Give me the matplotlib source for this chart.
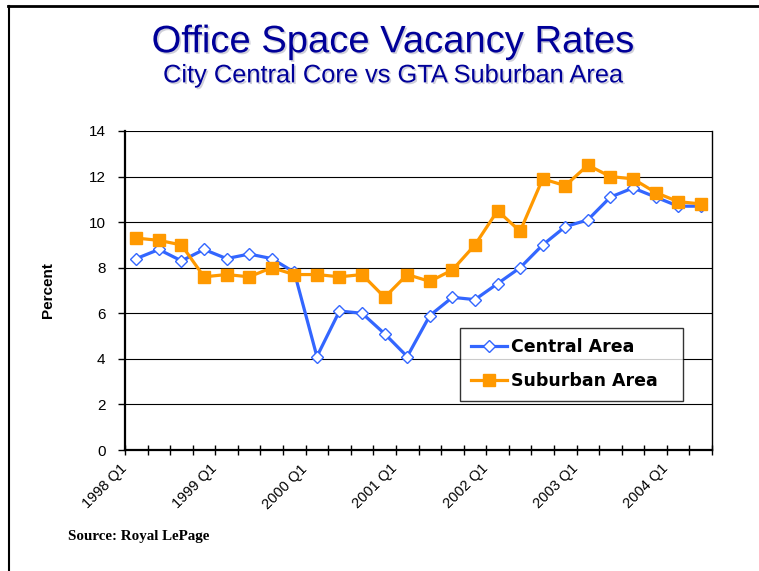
import matplotlib
matplotlib.use("Agg")
import matplotlib.pyplot as plt
import matplotlib.patheffects as pe
import matplotlib.transforms as mtrans
from matplotlib.lines import Line2D
import numpy as np

plt.rcParams["font.family"] = ["Liberation Sans", "DejaVu Sans"]

# %% Datos

trimestres = ["{} Q{}".format(a, q) for a in range(1998, 2005) for q in range(1, 5)][:26]
central = [8.4, 8.8, 8.3, 8.8, 8.4, 8.6, 8.4, 7.8, 4.1, 6.1, 6.0, 5.1, 4.1,
           5.9, 6.7, 6.6, 7.3, 8.0, 9.0, 9.8, 10.1, 11.1, 11.5, 11.1, 10.7, 10.7]
suburbano = [9.3, 9.2, 9.0, 7.6, 7.7, 7.6, 8.0, 7.7, 7.7, 7.6, 7.7, 6.7, 7.7,
             7.4, 7.9, 9.0, 10.5, 9.6, 11.9, 11.6, 12.5, 12.0, 11.9, 11.3, 10.9, 10.8]
y_ticks = [0, 2, 4, 6, 8, 10, 12, 14]

azul = "#3366FF"
naranja = "#FF9900"
titulo_color = "#000099"

# %% Grafico

fig = plt.figure(figsize=(7.59, 5.71), dpi=100)
ax = fig.add_axes([0.1647, 0.2119, 0.7734, 0.5587])

x = np.arange(len(trimestres))
ax.plot(x, central, "-D", color=azul, lw=2.3, ms=6, mfc="white", mec=azul, mew=1.0,
        label="Central Area", zorder=3)
ax.plot(x, suburbano, "-s", color=naranja, lw=2.3, ms=8, mfc=naranja, mec=naranja,
        label="Suburban Area", zorder=4)

ax.set_xlim(-0.5, len(trimestres) - 0.5)
ax.set_ylim(0, 14)
ax.set_yticks(y_ticks)
ax.yaxis.grid(True, color="black", lw=0.8)
ax.set_axisbelow(True)
ax.tick_params(axis="y", labelsize=11, length=5, width=1, pad=9)

# marcas en cada limite de categoria, etiquetas cada 4 trimestres
ax.set_xticks(np.arange(-0.5, len(trimestres), 1.0), minor=True)
ax.set_xticks(x[::4])
ax.set_xticklabels(trimestres[::4], rotation=45, ha="right", va="center",
                   rotation_mode="anchor", fontsize=10.5)
ax.tick_params(axis="x", which="major", length=0, pad=12)
ax.tick_params(axis="x", which="minor", direction="inout", length=7, width=1)
desplazo = mtrans.ScaledTranslation(-12 / 100, 0, fig.dpi_scale_trans)
for lbl in ax.get_xticklabels():
    lbl.set_transform(lbl.get_transform() + desplazo)

for s in ["left", "bottom"]:
    ax.spines[s].set_linewidth(1.6)
ax.spines["right"].set_linewidth(1.0)
ax.spines["top"].set_visible(False)

ax.set_ylabel("Percent", fontsize=11, fontweight="bold", labelpad=24)

leg = ax.legend(loc="lower left", bbox_to_anchor=(0.571, 0.154, 0.38, 0.232), mode="expand",
                borderaxespad=0, fancybox=False, frameon=True, edgecolor="black",
                borderpad=0.6, handlelength=2.1, handletextpad=0.25, labelspacing=0.95,
                prop={"size": 12.5, "weight": "bold", "family": "DejaVu Sans"})
leg.get_frame().set_linewidth(1.0)

sombra = [pe.withSimplePatchShadow(offset=(1.2, -1.2), shadow_rgbFace="#b0b0c0", alpha=0.6)]
fig.text(0.518, 0.926, "Office Space Vacancy Rates", ha="center", va="center",
         fontsize=27.5, color=titulo_color, path_effects=sombra)
fig.text(0.518, 0.868, "City Central Core vs GTA Suburban Area", ha="center", va="center",
         fontsize=18.3, color=titulo_color, path_effects=sombra)
fig.text(0.09, 0.06, "Source: Royal LePage", ha="left", va="center", fontsize=10.8,
         fontweight="bold", family="Liberation Serif")

# marco de la pagina
fig.add_artist(Line2D([0.011, 1.0], [0.989, 0.989], color="black", lw=2, transform=fig.transFigure))
fig.add_artist(Line2D([0.012, 0.012], [0.0, 0.989], color="black", lw=1.5, transform=fig.transFigure))

fig.savefig("out.png", dpi=100)
